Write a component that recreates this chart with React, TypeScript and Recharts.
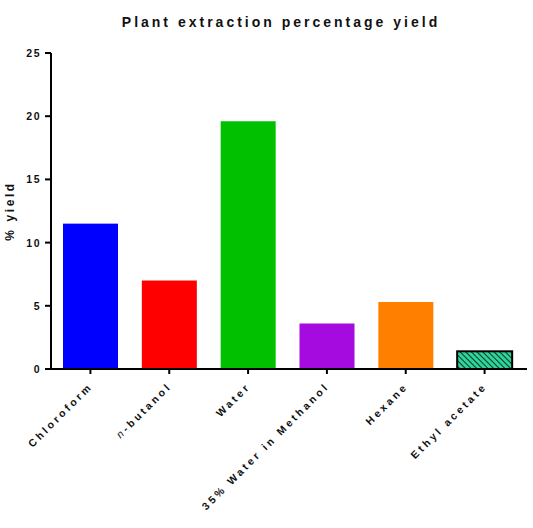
import React from 'react';
import { BarChart, Bar, XAxis, YAxis, Cell } from 'recharts';

// Extraction solvents and their percentage yields
const solvents = ['Chloroform', 'n-butanol', 'Water', '35% Water in Methanol', 'Hexane', 'Ethyl acetate'];
const yields = [11.5, 7.0, 19.6, 3.6, 5.3, 1.4];
const barColors = ['#0000ff', '#ff0000', '#00c000', '#a50ade', '#ff8000', '#2fd49a'];
const yTicks = [0, 5, 10, 15, 20, 25];

const data = solvents.map((name, i) => ({ name, value: yields[i] }));

const FONT = '"Liberation Sans", Arial, sans-serif';

const XTick = (props: any) => {
  const { x, y, payload } = props;
  const label: string = payload.value;
  const italicN = label.startsWith('n-');
  return (
    <g transform={`translate(${x + 3},${y + 11}) rotate(-45)`}>
      <text
        x={0}
        y={0}
        textAnchor="end"
        fontFamily={FONT}
        fontSize={10.5}
        fontWeight="bold"
        letterSpacing={2.9}
        fill="#111"
      >
        {italicN ? (
          <>
            <tspan fontStyle="italic" fontWeight="normal">n</tspan>
            <tspan>{label.slice(1)}</tspan>
          </>
        ) : (
          label
        )}
      </text>
    </g>
  );
};

const YTick = (props: any) => {
  const { x, y, payload } = props;
  return (
    <text
      x={x - 2}
      y={y + 4}
      textAnchor="end"
      fontFamily={FONT}
      fontSize={10.5}
      fontWeight="bold"
      letterSpacing={1.5}
      fill="#111"
    >
      {payload.value}
    </text>
  );
};

const BarShape = (props: any) => {
  const { x, y, width, height, fill, index } = props;
  if (index === solvents.length - 1) {
    return (
      <g>
        <defs>
          <pattern id="hatch" patternUnits="userSpaceOnUse" width={4} height={4} patternTransform="rotate(-45)">
            <rect x={0} y={0} width={4} height={4} fill={fill} />
            <line x1={0} y1={0} x2={0} y2={4} stroke="#000" strokeWidth={1.5} />
          </pattern>
        </defs>
        <rect x={x} y={y} width={width} height={height} fill="url(#hatch)" stroke="#000" strokeWidth={2} />
      </g>
    );
  }
  return <rect x={x} y={y} width={width} height={height} fill={fill} />;
};

export default function App() {
  return (
    <div style={{ position: 'absolute', left: 0, top: 0, width: 533, height: 528, background: '#fff' }}>
      <svg width={533} height={528} style={{ position: 'absolute', left: 0, top: 0 }}>
        <text
          x={281}
          y={27}
          textAnchor="middle"
          fontFamily={FONT}
          fontSize={14}
          fontWeight="bold"
          letterSpacing={3}
          fill="#111"
        >
          Plant extraction percentage yield
        </text>
        <text
          transform="translate(14,211) rotate(-90)"
          textAnchor="middle"
          fontFamily={FONT}
          fontSize={12}
          fontWeight="bold"
          letterSpacing={2.6}
          fill="#111"
        >
          % yield
        </text>
      </svg>
      <div style={{ position: 'absolute', left: 0, top: 0 }}>
        <BarChart
          width={533}
          height={528}
          data={data}
          margin={{ top: 53, right: 6, left: 0, bottom: 59 }}
          barSize={55}
        >
          <XAxis
            dataKey="name"
            interval={0}
            height={100}
            tick={<XTick />}
            tickSize={5}
            axisLine={{ stroke: '#000', strokeWidth: 2 }}
            tickLine={{ stroke: '#000', strokeWidth: 2 }}
            padding={{ left: 0, right: 3 }}
          />
          <YAxis
            width={51}
            domain={[0, 25]}
            ticks={yTicks}
            interval={0}
            tick={<YTick />}
            tickSize={6}
            axisLine={{ stroke: '#000', strokeWidth: 2 }}
            tickLine={{ stroke: '#000', strokeWidth: 2 }}
          />
          <Bar dataKey="value" isAnimationActive={false} shape={<BarShape />}>
            {data.map((d, i) => (
              <Cell key={d.name} fill={barColors[i]} />
            ))}
          </Bar>
        </BarChart>
      </div>
    </div>
  );
}
